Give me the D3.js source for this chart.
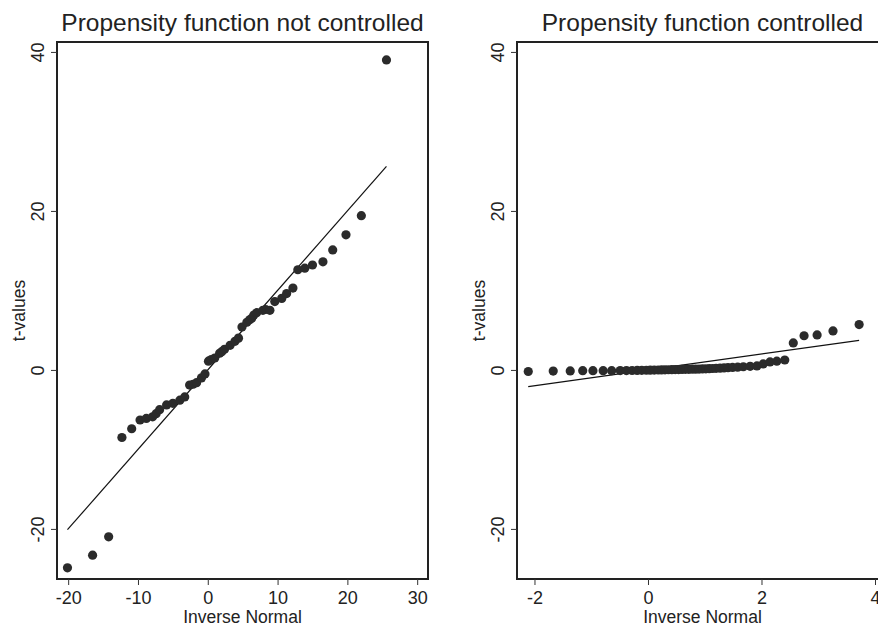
<!DOCTYPE html>
<html>
<head>
<meta charset="utf-8">
<script src="https://cdn.jsdelivr.net/npm/d3@7"></script>
<style>
  body { margin: 0; background: #fff; }
  svg { display: block; }
</style>
</head>
<body>
<div id="chart"></div>
<script>
//Panel titles and axis text
var titles = ["Propensity function not controlled", "Propensity function controlled"];
var xLabel = "Inverse Normal";
var yLabel = "t-values";

//Tick values
var yTicks = [-20, 0, 20, 40];
var xTicksLeft = [-20, -10, 0, 10, 20, 30];
var xTicksRight = [-2, 0, 2, 4];

//Left panel: inverse normal vs t-values (not controlled)
var leftX = [-20.1, -16.5, -14.2, -12.3, -10.9, -9.7, -8.8, -7.9, -7.4, -6.9, -5.9, -5.0, -4.0, -3.3,
  -2.6, -2.1, -1.6, -0.9, -0.4, 0.1, 0.5, 1.0, 1.7, 2.0, 2.4, 3.2, 3.9, 4.4, 4.9, 5.6, 6.0, 6.3, 6.6,
  7.0, 7.9, 8.3, 8.9, 9.6, 10.6, 11.3, 12.2, 12.9, 13.9, 15.0, 16.5, 17.9, 19.8, 22.0, 25.6];
var leftY = [-24.9, -23.3, -21.0, -8.5, -7.4, -6.3, -6.1, -5.9, -5.5, -5.0, -4.4, -4.2, -3.8, -3.4,
  -1.9, -1.8, -1.6, -1.0, -0.5, 1.1, 1.3, 1.5, 2.1, 2.3, 2.6, 3.1, 3.6, 4.0, 5.4, 6.0, 6.3, 6.5, 6.9,
  7.2, 7.5, 7.6, 7.5, 8.6, 9.0, 9.6, 10.3, 12.6, 12.8, 13.2, 13.6, 15.1, 17.0, 19.4, 39.0];
var leftLine = [-20.1, 25.6];

//Right panel: inverse normal vs t-values (controlled)
var rightX = [-2.11, -1.67, -1.37, -1.15, -0.97, -0.79, -0.64, -0.49,
  -0.38, -0.28, -0.19, -0.11, -0.03, 0.04, 0.11, 0.18, 0.24, 0.30, 0.36, 0.42, 0.48, 0.54, 0.60,
  0.66, 0.72, 0.78, 0.84, 0.90, 0.96, 1.02, 1.08, 1.14, 1.20, 1.27, 1.34, 1.41, 1.49, 1.58, 1.68, 1.80,
  1.92, 2.03, 2.15, 2.27, 2.41, 2.56, 2.75, 2.98, 3.26, 3.72];
var rightY = [-0.20, -0.15, -0.12, -0.10, -0.10, -0.09, -0.09, -0.08,
  -0.08, -0.07, -0.06, -0.05, -0.04, -0.03, -0.02, -0.01, 0.00, 0.01, 0.02, 0.03, 0.04, 0.05, 0.06,
  0.07, 0.08, 0.09, 0.10, 0.11, 0.12, 0.14, 0.16, 0.18, 0.20, 0.22, 0.25, 0.28, 0.31, 0.35, 0.40, 0.45,
  0.50, 0.75, 1.00, 1.10, 1.25, 3.40, 4.30, 4.40, 4.90, 5.70];
var rightLine = [-2.11, 3.72];

var width = 878, height = 628;
var font = "'Liberation Sans', Arial, Helvetica, sans-serif";

var svg = d3.select("#chart")
  .append("svg")
  .attr("width", width)
  .attr("height", height)
  .style("font-family", font);

//Shared y scale (both panels use the same range)
var plotTop = 42, plotBottom = 579;
var yScale = d3.scaleLinear().domain([-26.3, 41.25]).range([plotBottom, plotTop]);

function drawPanel(p) {
  var xScale = d3.scaleLinear().domain(p.xDomain).range([p.left, p.right]);
  var g = svg.append("g");

  //Frame
  g.append("rect")
    .attr("x", p.left)
    .attr("y", plotTop)
    .attr("width", p.right - p.left)
    .attr("height", plotBottom - plotTop)
    .style("fill", "none")
    .style("stroke", "#222")
    .style("stroke-width", 2);

  //Fitted line
  g.append("line")
    .attr("x1", xScale(p.line[0]))
    .attr("y1", yScale(p.line[0]))
    .attr("x2", xScale(p.line[1]))
    .attr("y2", yScale(p.line[1]))
    .style("stroke", "#111")
    .style("stroke-width", 1.2);

  //Points
  g.selectAll(".dot")
    .data(p.xs.map((x, i) => [x, p.ys[i]]))
    .enter()
    .append("circle")
    .attr("cx", d => xScale(d[0]))
    .attr("cy", d => yScale(d[1]))
    .attr("r", 4.6)
    .style("fill", "#2b2b2b");

  //X axis
  var xAxis = g.append("g")
    .attr("transform", "translate(0," + plotBottom + ")")
    .call(d3.axisBottom(xScale).tickValues(p.xTicks).tickSize(6).tickFormat(d => String(d)));
  xAxis.select(".domain").remove();
  xAxis.selectAll("line").style("stroke", "#333");
  xAxis.selectAll("text")
    .attr("dy", 0)
    .attr("y", 25)
    .style("font-size", "18px")
    .style("font-family", font)
    .style("fill", "#222");

  //Y axis
  var yAxis = g.append("g")
    .attr("transform", "translate(" + p.left + ",0)")
    .call(d3.axisLeft(yScale).tickValues(yTicks).tickSize(6).tickFormat(d => String(d)));
  yAxis.select(".domain").remove();
  yAxis.selectAll("line").style("stroke", "#333");
  yAxis.selectAll("text")
    .attr("transform", "rotate(-90)")
    .attr("x", 0)
    .attr("y", -13)
    .attr("dy", 0)
    .style("text-anchor", "middle")
    .style("font-size", "18px")
    .style("font-family", font)
    .style("fill", "#222");

  //Title
  g.append("text")
    .attr("x", (p.left + p.right) / 2)
    .attr("y", 31)
    .style("text-anchor", "middle")
    .style("font-size", "24.5px")
    .style("fill", "#222")
    .text(p.title);

  //Axis titles
  g.append("text")
    .attr("x", (p.left + p.right) / 2)
    .attr("y", 623)
    .style("text-anchor", "middle")
    .style("font-size", "17.5px")
    .style("fill", "#222")
    .text(xLabel);

  g.append("text")
    .attr("transform", "translate(" + (p.left - 32) + "," + ((plotTop + plotBottom) / 2) + ") rotate(-90)")
    .style("text-anchor", "middle")
    .style("font-size", "17.5px")
    .style("fill", "#222")
    .text(yLabel);
}

drawPanel({
  title: titles[0], left: 57, right: 428, xDomain: [-21.6, 31.55],
  xTicks: xTicksLeft, xs: leftX, ys: leftY, line: leftLine
});

drawPanel({
  title: titles[1], left: 517, right: 888, xDomain: [-2.308, 4.229],
  xTicks: xTicksRight, xs: rightX, ys: rightY, line: rightLine
});
</script>
</body>
</html>
